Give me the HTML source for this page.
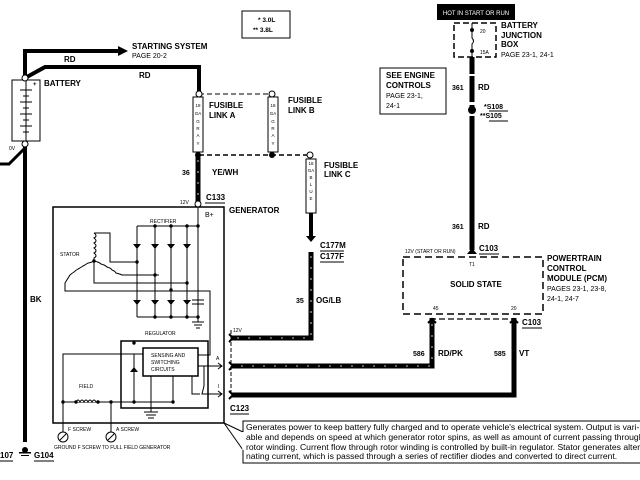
<!DOCTYPE html>
<html><head><meta charset="utf-8"><style>
html,body{margin:0;padding:0;background:#fff}
svg{display:block}
text{font-family:"Liberation Sans",Arial,sans-serif;fill:#000}
.b{font-weight:bold;font-size:8px}
.s{font-size:7px}
.t{font-size:5px}
</style></head><body>
<svg width="640" height="480" viewBox="0 0 640 480" xmlns="http://www.w3.org/2000/svg">
<rect width="640" height="480" fill="#fff"/>
<g fill="none" stroke="#000">
<polyline points="25,78 25,51 118,51" stroke-width="4"/>
<polygon points="118,46 128,51 118,56" fill="#000" stroke="none"/>
<polyline points="25,78 45,67 199,67 199,94" stroke-width="4"/>
<line x1="25" y1="144" x2="25" y2="442" stroke-width="4"/>
<polyline points="0,164 9,164 25,148" stroke-width="3"/>
<rect x="12" y="80" width="28" height="61" stroke-width="1"/>
<line x1="26" y1="80" x2="26" y2="141" stroke-width="1"/>
<g stroke-width="1">
<line x1="20" y1="90" x2="32" y2="90"/><line x1="23" y1="96" x2="29" y2="96"/>
<line x1="20" y1="102" x2="32" y2="102"/><line x1="23" y1="108" x2="29" y2="108"/>
<line x1="20" y1="114" x2="32" y2="114"/><line x1="23" y1="120" x2="29" y2="120"/>
<line x1="20" y1="126" x2="32" y2="126"/><line x1="23" y1="132" x2="29" y2="132"/>
</g>
<rect x="242" y="11" width="48" height="27" stroke-width="1"/>
<line x1="199" y1="94" x2="272" y2="94" stroke-dasharray="5,3"/>
<line x1="199" y1="155" x2="310" y2="155" stroke-dasharray="5,3" stroke-width="1.5"/>
<rect x="193" y="97" width="10" height="55"/>
<rect x="268" y="97" width="10" height="55"/>
<rect x="306" y="159" width="10" height="54"/>
<line x1="198" y1="155" x2="198" y2="204" stroke-width="5"/>
<line x1="198" y1="160" x2="198" y2="202" stroke="#fff" stroke-width="0.8" stroke-dasharray="2,9"/>
<polyline points="311,213 311,236" stroke-width="4"/>
<polygon points="306,236 311,242 316,236" fill="#000" stroke="none"/>
<polyline points="311,252 311,338 232,338" stroke-width="5"/>
<polyline points="311,256 311,338 234,338" stroke="#fff" stroke-width="0.8" stroke-dasharray="2,9"/>
<line x1="472" y1="57" x2="472" y2="250" stroke-width="5"/>
<line x1="472" y1="74" x2="472" y2="76" stroke="#fff" stroke-width="6"/>
<line x1="472" y1="102" x2="472" y2="105" stroke="#fff" stroke-width="6"/>
<line x1="472" y1="113" x2="472" y2="116" stroke="#fff" stroke-width="6"/>
<circle cx="472" cy="110" r="3.5" fill="#000"/>
<polygon points="467,254 472,248 477,254" fill="#000" stroke="none"/>
<rect x="454" y="23" width="42" height="34" stroke-dasharray="6,3" stroke-width="1.5"/>
<line x1="472" y1="23" x2="472" y2="30"/><line x1="472" y1="50" x2="472" y2="57"/>
<path d="M472,30 v8 q3,3 0,6 v6" stroke-width="1"/>
<circle cx="472" cy="30" r="1.5" fill="#000"/><circle cx="472" cy="51" r="1.5" fill="#000"/>
<rect x="380" y="68" width="66" height="46" stroke-width="1"/>
<rect x="403" y="257" width="140" height="57" stroke-dasharray="7,4" stroke-width="1.5"/>
<line x1="430" y1="319" x2="516" y2="319" stroke-dasharray="6,3" stroke-width="1.2"/>
<polyline points="432,318 432,366 232,366" stroke-width="5"/>
<polyline points="432,324 432,366 234,366" stroke="#fff" stroke-width="0.8" stroke-dasharray="2,9"/>
<polyline points="514,318 514,395 232,395" stroke-width="5"/>
<line x1="231" y1="330" x2="231" y2="398" stroke-dasharray="4,2"/>
<rect x="53" y="207" width="171" height="216" stroke-width="1.5"/>
<g stroke-width="1">
<line x1="137" y1="226" x2="198" y2="226"/><line x1="137" y1="317" x2="198" y2="317"/>
<line x1="198" y1="204" x2="198" y2="317"/>
<line x1="137" y1="226" x2="137" y2="317"/><line x1="155" y1="226" x2="155" y2="317"/>
<line x1="171" y1="226" x2="171" y2="317"/><line x1="187" y1="226" x2="187" y2="317"/>
<line x1="192" y1="300" x2="204" y2="300"/><line x1="192" y1="304" x2="204" y2="304"/>
<line x1="198" y1="317" x2="198" y2="322"/><line x1="192" y1="322" x2="204" y2="322"/><line x1="194" y1="325" x2="202" y2="325"/><line x1="196" y1="328" x2="200" y2="328"/>
<path d="M94,233 q4,3 0,5 q4,3 0,5 q4,3 0,5 q4,3 0,5 q4,3 0,5 v3"/>
<polyline points="94,233 110,233 110,262 137,262"/>
<path d="M94,261 q-4,2 -6,2 q-3,2 -5,3 q-3,2 -5,3 q-3,2 -4,3 q-3,2 -4,3 l-5,8 v8 h145 v64 h-12"/>
<path d="M94,261 q5,1 7,3 q4,1 6,3 q4,1 5,3 q3,1 4,3 q4,1 6,2 h37"/>
<polyline points="94,261 94,283 187,283"/>
<rect x="121" y="341" width="87" height="67" stroke-width="1.5"/>
<rect x="143" y="348" width="55" height="28" stroke-width="1.5"/>
<polyline points="63,432 63,354 143,354"/>
<line x1="134" y1="354" x2="134" y2="402"/>
<polyline points="63,402 134,402 173,402"/>
<line x1="173" y1="376" x2="173" y2="402"/>
<line x1="151" y1="376" x2="151" y2="412"/>
<line x1="144" y1="412" x2="158" y2="412"/><line x1="146" y1="415" x2="156" y2="415"/><line x1="148" y1="418" x2="154" y2="418"/>
<polyline points="111,402 111,432"/>
<polyline points="198,366 204,366 204,386 202,394 222,394"/>
<polyline points="192,376 192,394 200,394"/>
<polyline points="204,366 222,366"/>
<polyline points="218,363 222,366 218,369"/><polyline points="218,391 222,394 218,397"/>
<line x1="224" y1="423" x2="243" y2="432"/><line x1="224" y1="423" x2="243" y2="450"/>
<path d="M76,402 q2,-4 4,0 q2,-4 4,0 q2,-4 4,0 q2,-4 4,0 q2,-4 4,0" fill="#fff"/>
<circle cx="63" cy="437" r="5" fill="#fff"/><circle cx="111" cy="437" r="5" fill="#fff"/>
<line x1="60" y1="440" x2="66" y2="434"/><line x1="108" y1="440" x2="114" y2="434"/>
</g>
<g fill="#000" stroke="none">
<path d="M133,244 h8 l-4,5z M151,244 h8 l-4,5z M167,244 h8 l-4,5z M183,244 h8 l-4,5z"/>
<path d="M133,300 h8 l-4,5z M151,300 h8 l-4,5z M167,300 h8 l-4,5z M183,300 h8 l-4,5z"/>
<path d="M130,372 h8 l-4,-5z"/>
<circle cx="155" cy="226" r="1.7"/><circle cx="171" cy="226" r="1.7"/><circle cx="187" cy="226" r="1.7"/><circle cx="198" cy="226" r="1.7"/>
<circle cx="155" cy="317" r="1.7"/><circle cx="171" cy="317" r="1.7"/><circle cx="187" cy="317" r="1.7"/><circle cx="198" cy="317" r="1.7"/>
<circle cx="137" cy="262" r="1.7"/><circle cx="155" cy="275" r="1.7"/><circle cx="187" cy="283" r="1.7"/><circle cx="171" cy="290" r="1.7"/><circle cx="94" cy="261" r="1.7"/>
<circle cx="134" cy="402" r="1.7"/><circle cx="173" cy="402" r="1.7"/><circle cx="63" cy="402" r="1.7"/><circle cx="111" cy="402" r="1.7"/><circle cx="76" cy="402" r="1.7"/><circle cx="98" cy="402" r="1.7"/><circle cx="134" cy="343" r="1.7"/>
<circle cx="198" cy="155" r="3"/><circle cx="272" cy="155" r="3"/>
<circle cx="25" cy="450" r="3"/><rect x="19" y="452" width="12" height="1.5"/><rect x="21" y="455" width="8" height="1"/>
</g>
<g fill="#fff" stroke="#000">
<circle cx="25" cy="78" r="3"/><circle cx="25" cy="144" r="3"/>
<circle cx="199" cy="94" r="3"/><circle cx="272" cy="94" r="3"/><circle cx="310" cy="155" r="3"/>
<circle cx="198" cy="204" r="3"/>
</g>
<g stroke="#000" stroke-width="2">
<polyline points="229,334 233,338 229,342" fill="none"/>
<polyline points="229,362 233,366 229,370" fill="none"/>
<polyline points="229,391 233,395 229,399" fill="none"/>
<polyline points="428,323 432,319 436,323" fill="none"/>
<polyline points="510,323 514,319 518,323" fill="none"/>
</g>
<rect x="243" y="421" width="400" height="42" stroke-width="1"/>
<line x1="243" y1="432" x2="243" y2="450" stroke="#fff" stroke-width="1.5"/>
</g>
<rect x="437" y="4" width="78" height="16" fill="#000"/>
<text x="476" y="15" text-anchor="middle" style="font-size:6px;fill:#fff">HOT IN START OR RUN</text>
<text class="b" x="132" y="49">STARTING SYSTEM</text>
<text class="s" x="132" y="58">PAGE 20-2</text>
<text class="b" x="64" y="62">RD</text>
<text class="b" x="139" y="78">RD</text>
<text class="b" x="44" y="86">BATTERY</text>
<text class="b" x="33" y="86" style="font-size:6px">+</text>
<text class="t" x="9" y="150">0V</text>
<text class="b" x="258" y="22" style="font-size:6.5px">* 3.0L</text>
<text class="b" x="253" y="32" style="font-size:6.5px">** 3.8L</text>
<text class="b" x="209" y="108">FUSIBLE</text><text class="b" x="209" y="118">LINK A</text>
<text class="b" x="288" y="103">FUSIBLE</text><text class="b" x="288" y="113">LINK B</text>
<text class="b" x="324" y="168">FUSIBLE</text><text class="b" x="324" y="177">LINK C</text>
<g class="t" text-anchor="middle" style="font-size:4.5px">
<text x="198" y="107">18</text><text x="198" y="115">GA</text><text x="198" y="123">G</text><text x="198" y="130">R</text><text x="198" y="137">A</text><text x="198" y="145">Y</text>
<text x="273" y="107">18</text><text x="273" y="115">GA</text><text x="273" y="123">G</text><text x="273" y="130">R</text><text x="273" y="137">A</text><text x="273" y="145">Y</text>
<text x="311" y="165">18</text><text x="311" y="172">GA</text><text x="311" y="179">B</text><text x="311" y="186">L</text><text x="311" y="193">U</text><text x="311" y="200">E</text>
</g>
<text class="b" x="182" y="175" style="font-size:7px">36</text>
<text class="b" x="212" y="175">YE/WH</text>
<text class="b" x="206" y="200">C133</text><line x1="205" y1="203" x2="225" y2="203" stroke="#000"/>
<text class="t" x="180" y="204">12V</text>
<text class="b" x="229" y="213">GENERATOR</text>
<text class="s" x="205" y="217">B+</text>
<text class="t" x="150" y="223">RECTIFIER</text>
<text class="t" x="60" y="256">STATOR</text>
<text class="t" x="145" y="335">REGULATOR</text>
<text class="t" x="151" y="357">SENSING AND</text>
<text class="t" x="151" y="364">SWITCHING</text>
<text class="t" x="151" y="371">CIRCUITS</text>
<text class="t" x="79" y="388">FIELD</text>
<text class="t" x="216" y="360">A</text><text class="t" x="218" y="388">I</text>
<text class="t" x="68" y="431">F SCREW</text><text class="t" x="116" y="431">A SCREW</text>
<text class="t" x="54" y="449">GROUND F SCREW  TO FULL FIELD GENERATOR</text>
<text class="b" x="30" y="302">BK</text>
<text class="b" x="0" y="458">107</text><line x1="0" y1="461" x2="13" y2="461" stroke="#000"/>
<text class="b" x="34" y="458">G104</text><line x1="34" y1="461" x2="54" y2="461" stroke="#000"/>
<text class="b" x="320" y="248">C177M</text><line x1="320" y1="251" x2="344" y2="251" stroke="#000"/>
<text class="b" x="320" y="259">C177F</text><line x1="320" y1="262" x2="344" y2="262" stroke="#000"/>
<text class="b" x="296" y="303" style="font-size:7px">35</text>
<text class="b" x="316" y="303">OG/LB</text>
<text class="t" x="233" y="332">12V</text>
<text class="b" x="230" y="411">C123</text><line x1="230" y1="414" x2="249" y2="414" stroke="#000"/>
<text class="b" x="501" y="28">BATTERY</text>
<text class="b" x="501" y="38">JUNCTION</text>
<text class="b" x="501" y="47">BOX</text>
<text class="s" x="501" y="57">PAGE 23-1, 24-1</text>
<text class="t" x="480" y="33">20</text><text class="t" x="480" y="54">15A</text>
<text class="b" x="386" y="78">SEE ENGINE</text>
<text class="b" x="386" y="88">CONTROLS</text>
<text class="s" x="386" y="98">PAGE 23-1,</text>
<text class="s" x="386" y="108">24-1</text>
<text class="b" x="452" y="90" style="font-size:7px">361</text><text class="b" x="478" y="90">RD</text>
<text class="b" x="484" y="109" style="font-size:7px">*S108</text><line x1="489" y1="111" x2="508" y2="111" stroke="#000"/>
<text class="b" x="480" y="118" style="font-size:7px">**S105</text><line x1="489" y1="121" x2="508" y2="121" stroke="#000"/>
<text class="b" x="452" y="229" style="font-size:7px">361</text><text class="b" x="478" y="229">RD</text>
<text class="t" x="405" y="253">12V (START OR RUN)</text>
<text class="b" x="479" y="251">C103</text><line x1="479" y1="254" x2="499" y2="254" stroke="#000"/>
<text class="t" x="469" y="266">T1</text>
<text class="b" x="476" y="287" text-anchor="middle">SOLID STATE</text>
<text class="t" x="433" y="310">45</text><text class="t" x="511" y="310">20</text>
<text class="b" x="547" y="261">POWERTRAIN</text>
<text class="b" x="547" y="271">CONTROL</text>
<text class="b" x="547" y="281">MODULE (PCM)</text>
<text class="s" x="547" y="291">PAGES 23-1, 23-8,</text>
<text class="s" x="547" y="301">24-1, 24-7</text>
<text class="b" x="522" y="325">C103</text><line x1="522" y1="328" x2="542" y2="328" stroke="#000"/>
<text class="b" x="413" y="356" style="font-size:7px">586</text><text class="b" x="438" y="356">RD/PK</text>
<text class="b" x="494" y="356" style="font-size:7px">585</text><text class="b" x="519" y="356">VT</text>
<g style="font-size:8.6px">
<text x="246" y="430">Generates power to keep battery fully charged and to operate vehicle's electrical system.  Output is vari-</text>
<text x="246" y="440">able and depends on speed at which generator rotor spins, as well as amount of current passing through</text>
<text x="246" y="450">rotor winding.  Current flow through rotor winding is controlled by built-in regulator.  Stator generates alter-</text>
<text x="246" y="459">nating current, which is passed through a series of rectifier diodes and converted to direct current.</text>
</g>
</svg>
</body></html>
